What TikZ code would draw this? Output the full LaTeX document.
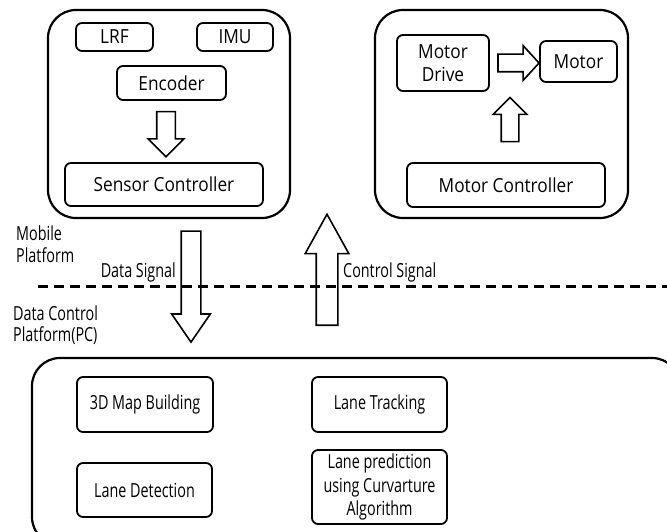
\documentclass[tikz,border=0pt]{standalone}
\usepackage{fontspec}
\setmainfont{Open Sans}[FakeStretch=0.89]
\newfontfamily\narrowsans{Open Sans}[FakeStretch=0.74]
\usetikzlibrary{shapes.arrows}

\begin{document}
\begin{tikzpicture}[x=1pt, y=-1pt,
  font=\fontsize{19.4}{22.5}\selectfont,
  frame/.style={draw, rounded corners=28pt, line width=2.2pt, inner sep=0pt},
  unit/.style={draw, rounded corners=6pt, line width=1.8pt, align=center, inner sep=0pt},
  pcunit/.style={unit, font=\fontsize{19.4}{23.5}\selectfont\narrowsans},
  fat/.style={single arrow, draw, line width=1.6pt, inner xsep=0pt,
    single arrow head indent=0pt},
  side/.style={anchor=west, align=left, inner sep=0pt,
    font=\fontsize{19.4}{21.5}\selectfont\narrowsans},
  cut/.style={line width=3pt, dash pattern=on 10pt off 6pt}
]
\useasboundingbox (0,0) rectangle (667,532);

% Mobile platform: sensor side
\node[frame, minimum width=242, minimum height=208] (sensorframe) at (169,114) {};
\node[unit, minimum width=77, minimum height=28] (lrf) at (114.5,37) {LRF};
\node[unit, minimum width=76, minimum height=28] (imu) at (235,37) {IMU};
\node[unit, minimum width=109, minimum height=34] (encoder) at (171.5,83) {Encoder};
\node[unit, minimum width=198, minimum height=43] (sensorctl) at (164,184.5) {Sensor Controller};
\node[fat, rotate=-90, inner ysep=8.5, single arrow head extend=8.5,
  single arrow tip angle=90, minimum height=45] (enc2ctl) at (166,129.5) {};

% Mobile platform: motor side
\node[frame, minimum width=253, minimum height=208] (motorframe) at (501.5,114) {};
\node[unit, minimum width=92, minimum height=56] (drive) at (443,63) {Motor\\Drive};
\node[unit, minimum width=77, minimum height=41] (motor) at (578.5,61.5) {Motor};
\node[unit, minimum width=198, minimum height=44] (motorctl) at (506,185) {Motor Controller};
\node[fat, inner ysep=8, single arrow head extend=8.5,
  single arrow tip angle=95, minimum height=41] (drive2motor) at (514.5,63) {};
\node[fat, rotate=90, inner ysep=8, single arrow head extend=8,
  single arrow tip angle=90, minimum height=44] (ctl2drive) at (510,124) {};

% Boundary between the two platforms
\coordinate (cutwest) at (38,286);
\coordinate (cuteast) at (672,286);
\draw[cut] (cutwest) -- (cuteast);
\node[side] (mobile) at (16,244) {Mobile\\Platform};
\node[side] (pcside) at (13,325) {Data Control\\Platform(PC)};

% Signals crossing the boundary
\node[fat, rotate=-90, inner ysep=9, single arrow head extend=9.5,
  single arrow tip angle=69, minimum height=111] (datasig) at (191,279.5) {};
\node[fat, rotate=90, inner ysep=10, single arrow head extend=11,
  single arrow tip angle=58, minimum height=111] (ctrlsig) at (327,279.5) {};
\node[side, anchor=east] (datatext) at (176,272) {Data Signal};
\node[side] (ctrltext) at (343,272) {Control Signal};

% Data control platform (PC)
\node[frame, minimum width=648, minimum height=187] (pcframe) at (356,451.5) {};
\node[pcunit, minimum width=136, minimum height=55] (mapping) at (145,404.5) {3D Map Building};
\node[pcunit, minimum width=135, minimum height=55] (tracking) at (379.5,404.5) {Lane Tracking};
\node[pcunit, minimum width=135, minimum height=54] (detection) at (144.5,490) {Lane Detection};
\node[pcunit, minimum width=135, minimum height=74] (prediction) at (379.5,487)
  {Lane prediction\\using Curvarture\\Algorithm};
\end{tikzpicture}
\end{document}
